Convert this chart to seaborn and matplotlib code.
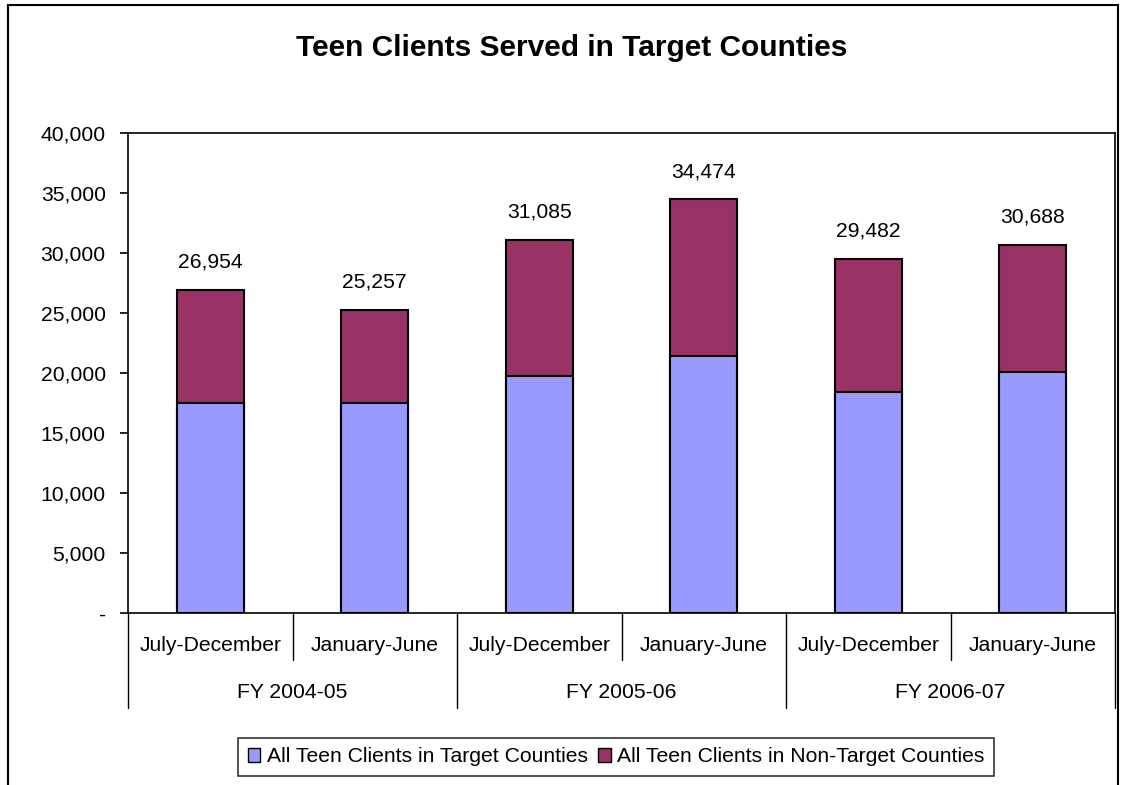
import numpy as np
import pandas as pd
import matplotlib
matplotlib.use("Agg")
import matplotlib.pyplot as plt
import matplotlib.transforms as mtransforms
from matplotlib.patches import Patch, Rectangle
from matplotlib.ticker import FuncFormatter
import seaborn as sns

# data
periods = ["July-December", "January-June", "July-December", "January-June", "July-December", "January-June"]
fiscal_years = ["FY 2004-05", "FY 2005-06", "FY 2006-07"]
target = [17460, 17460, 19780, 21440, 18440, 20060]
totals = [26954, 25257, 31085, 34474, 29482, 30688]
series_names = ["All Teen Clients in Target Counties", "All Teen Clients in Non-Target Counties"]

c_target = "#9999FF"
c_nontarget = "#993366"

sns.set_theme(style="white")
plt.rcParams['font.family'] = ['Liberation Sans', 'DejaVu Sans']
plt.rcParams['text.color'] = 'black'
plt.rcParams['ytick.color'] = 'black'
plt.rcParams['ytick.labelcolor'] = 'black'

fs = 15.2

df = pd.DataFrame({"slot": list(range(len(periods))), "target": target, "total": totals})

fig = plt.figure(figsize=(11.26, 7.85), dpi=100)
ax = fig.add_axes([128/1126, 1-613/785, (1115-128)/1126, (613-133)/785])

# stacked bars: totals first, then the target part over them
sns.barplot(data=df, x="slot", y="total", color=c_nontarget, saturation=1, width=0.41,
            edgecolor="black", linewidth=1.5, ax=ax)
sns.barplot(data=df, x="slot", y="target", color=c_target, saturation=1, width=0.41,
            edgecolor="black", linewidth=1.5, ax=ax)

for i, t in enumerate(totals):
    ax.annotate(f"{t:,}", (i, t), xytext=(0, 20), textcoords="offset points",
                ha="center", va="center", fontsize=fs)

ax.set_ylim(0, 40000)
ax.set_xlim(-0.5, 5.5)
ax.set_yticks(np.arange(0, 40001, 5000))
ax.yaxis.set_major_formatter(FuncFormatter(lambda v, p: "-" if v == 0 else f"{int(v):,}"))
ax.tick_params(axis="y", labelsize=fs, length=6, width=1.2, color="black", left=True, pad=10)
ax.set_xticks([])
ax.set_xlabel("")
ax.set_ylabel("")
for s in ax.spines.values():
    s.set_color("black")
    s.set_linewidth(1.2)

# two-level category axis
tr = mtransforms.blended_transform_factory(ax.transData, ax.transAxes)
for i, lab in enumerate(periods):
    ax.text(i, -0.067, lab, transform=tr, ha="center", va="center", fontsize=fs)
for j, fy in enumerate(fiscal_years):
    ax.text(2*j + 0.5, -0.165, fy, transform=tr, ha="center", va="center", fontsize=fs)
for k in range(len(periods) + 1):
    x = k - 0.5
    y1 = -0.198 if k % 2 == 0 else -0.098
    ax.plot([x, x], [0, y1], transform=tr, color="black", lw=1, clip_on=False)

fig.text(572/1126, 1-48/785, "Teen Clients Served in Target Counties", ha="center", va="center",
         fontsize=21.5, fontweight="bold")

handles = [Patch(facecolor=c_target, edgecolor="black", lw=1),
           Patch(facecolor=c_nontarget, edgecolor="black", lw=1)]
leg = fig.legend(handles, series_names, ncol=2, loc="center", bbox_to_anchor=(616/1126, 1-757/785),
                 fontsize=fs, frameon=True, fancybox=False, handlelength=0.6, handleheight=0.6,
                 handletextpad=0.3, columnspacing=0.5, borderpad=0.45)
leg.get_frame().set_edgecolor("black")
leg.get_frame().set_linewidth(1.2)

# outer chart border
fig.patches.append(Rectangle((8/1126, -0.05), (1118-8)/1126, 1.05 - 5/785, transform=fig.transFigure,
                             fill=False, edgecolor="black", lw=1.5))

fig.savefig("out.png", dpi=100)
